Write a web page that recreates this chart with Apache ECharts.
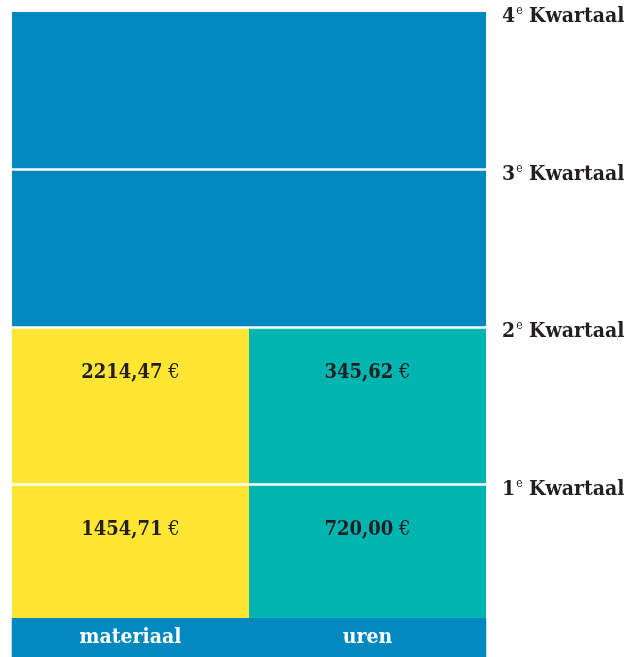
<!DOCTYPE html>
<html>
<head>
<meta charset="utf-8">
<script src="https://cdn.jsdelivr.net/npm/echarts@6/dist/echarts.min.js"></script>
<style>html,body{margin:0;padding:0;background:#fff}#c{width:636px;height:657px}</style>
</head>
<body>
<div id="c"></div>
<script>
var categories = ['materiaal', 'uren'];
var quarterLabels = ['1', '2', '3', '4'];
var materiaalAmounts = [1454.71, 2214.47];
var urenAmounts = [720.00, 345.62];
var blockValues = [1, 1, 1, 1];

var BLUE = '#0088bf', YELLOW = '#ffe633', TEAL = '#00b5b0';
var FONT = "'DejaVu Serif Condensed', 'DejaVu Serif', serif";

function fmt(v) { return v.toFixed(2).replace('.', ','); }

function amountSeries(qi) {
  return {
    name: 'Q' + (qi + 1), type: 'bar', stack: 'total', barCategoryGap: '0%',
    data: [
      { value: blockValues[qi], itemStyle: { color: YELLOW }, amount: materiaalAmounts[qi] },
      { value: blockValues[qi], itemStyle: { color: TEAL }, amount: urenAmounts[qi] }
    ],
    label: {
      show: true, position: 'insideTop', distance: 34,
      formatter: function (p) { return '{b|' + fmt(p.data.amount) + '}{n| €}'; },
      rich: {
        b: { fontFamily: FONT, fontWeight: 'bold', fontSize: 20, color: '#231f20', lineHeight: 23 },
        n: { fontFamily: FONT, fontWeight: 'normal', fontSize: 20, color: '#231f20', lineHeight: 23 }
      }
    }
  };
}
function blueSeries(qi, withLines) {
  var s = {
    name: 'Q' + (qi + 1), type: 'bar', stack: 'total', barCategoryGap: '0%',
    data: [blockValues[qi], blockValues[qi]],
    itemStyle: { color: BLUE }
  };
  if (withLines) {
    s.markLine = {
      silent: true, symbol: 'none', animation: false,
      label: { show: false },
      lineStyle: { color: '#ffffff', width: 2.5, type: 'solid' },
      data: [{ yAxis: 1 }, { yAxis: 2 }, { yAxis: 3 }]
    };
  }
  return s;
}

var chart = echarts.init(document.getElementById('c'));
chart.setOption({
  animation: false,
  grid: { left: 12, right: 150, top: 12, bottom: 15 },
  xAxis: {
    type: 'category', data: categories, z: 10,
    axisLine: { show: false }, axisTick: { show: false },
    axisLabel: {
      interval: 0, hideOverlap: false,
      inside: true, margin: 4.5, verticalAlign: 'middle', align: 'center',
      width: 237.5, height: 36, lineHeight: 36, padding: [0, 0, 3, 0], backgroundColor: BLUE,
      color: '#ffffff', fontFamily: FONT, fontWeight: 'bold', fontSize: 21
    }
  },
  yAxis: {
    type: 'value', position: 'right', min: 0, max: 4, interval: 1,
    axisLine: { show: false }, axisTick: { show: false }, splitLine: { show: false },
    axisLabel: {
      margin: 16, align: 'left', verticalAlign: 'middle', padding: [10, 0, 0, 0],
      formatter: function (v) { return v >= 1 ? '{a|' + quarterLabels[v - 1] + '}{s|e}{a| Kwartaal}' : ''; },
      rich: {
        a: { fontFamily: FONT, fontWeight: 'bold', fontSize: 21, color: '#231f20', lineHeight: 24 },
        s: { fontFamily: FONT, fontWeight: 'normal', fontSize: 12, color: '#231f20', lineHeight: 24, verticalAlign: 'top', padding: [0, 0, 6, 1] }
      }
    }
  },
  series: [amountSeries(0), amountSeries(1), blueSeries(2, false), blueSeries(3, true)]
});
</script>
</body>
</html>
